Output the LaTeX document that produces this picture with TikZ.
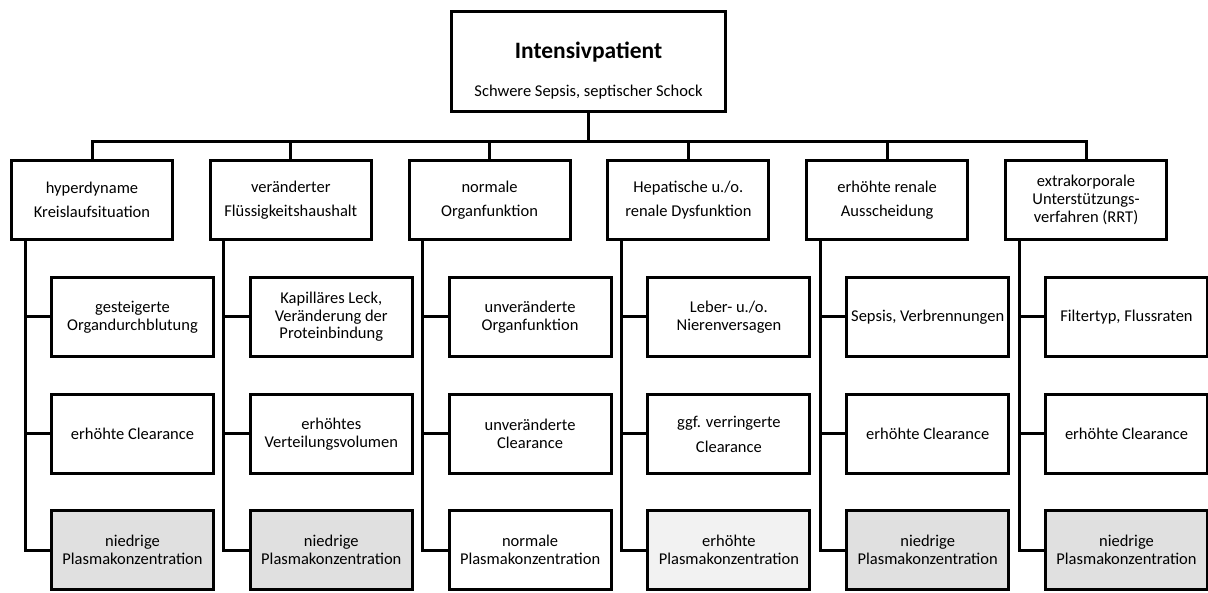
\documentclass[tikz,border=0pt]{standalone}
\usepackage{fontspec}
\setmainfont{Carlito}
\usepackage{tikz}
\definecolor{plasmagray}{RGB}{224,224,224}
\definecolor{plasmalight}{RGB}{242,242,242}

\begin{document}
\begin{tikzpicture}[x=1pt, y=-1pt,
	box/.style={draw, line width=3pt, rectangle, align=center, inner sep=2pt, minimum width=161pt, minimum height=79pt, font=\fontsize{16.5}{24}\selectfont},
	sub/.style={box, minimum width=162pt, font=\fontsize{16.5}{17.5}\selectfont},
	low/.style={sub, fill=plasmagray},
	high/.style={sub, fill=plasmalight},
	link/.style={line width=3pt}]
	\useasboundingbox (0,0) rectangle (1208,593);

	\node[box, minimum width=274pt, minimum height=100pt] (top) at (588.5,61.5) {{\fontsize{23.5}{28}\selectfont\bfseries\rule{0pt}{35pt}Intensivpatient}\\[14pt]Schwere Sepsis, septischer Schock};
	\coordinate (bus) at (588.5,142);

	\node[box] (l1) at (92,200) {hyperdyname\\Kreislaufsituation};
	\node[box] (l2) at (290.8,200) {veränderter\\Flüssigkeitshaushalt};
	\node[box] (l3) at (489.6,200) {normale\\Organfunktion};
	\node[box] (l4) at (688.4,200) {Hepatische u./o.\\renale Dysfunktion};
	\node[box] (l5) at (887.2,200) {erhöhte renale\\Ausscheidung};
	\node[box, font=\fontsize{16.5}{18}\selectfont] (l6) at (1086,200) {extrakorporale\\Unterstützungs-\\verfahren (RRT)};

	% column 1
	\node[sub] (c1a) at (132.5,317) {gesteigerte\\Organdurchblutung};
	\node[sub] (c1b) at (132.5,434) {erhöhte Clearance};
	\node[low] (c1c) at (132.5,550) {niedrige\\Plasmakonzentration};
	% column 2
	\node[sub] (c2a) at (331.3,317) {Kapilläres Leck,\\Veränderung der\\Proteinbindung};
	\node[sub] (c2b) at (331.3,434) {erhöhtes\\Verteilungsvolumen};
	\node[low] (c2c) at (331.3,550) {niedrige\\Plasmakonzentration};
	% column 3
	\node[sub] (c3a) at (530.1,317) {unveränderte\\Organfunktion};
	\node[sub] (c3b) at (530.1,434) {unveränderte\\Clearance};
	\node[sub] (c3c) at (530.1,550) {normale\\Plasmakonzentration};
	% column 4
	\node[sub] (c4a) at (728.9,317) {Leber- u./o.\\Nierenversagen};
	\node[sub, font=\fontsize{16.5}{25}\selectfont] (c4b) at (728.9,434) {ggf. verringerte\\Clearance};
	\node[high] (c4c) at (728.9,550) {erhöhte\\Plasmakonzentration};
	% column 5
	\node[sub] (c5a) at (927.7,317) {Sepsis, Verbrennungen};
	\node[sub] (c5b) at (927.7,434) {erhöhte Clearance};
	\node[low] (c5c) at (927.7,550) {niedrige\\Plasmakonzentration};
	% column 6
	\node[sub] (c6a) at (1126.5,317) {Filtertyp, Flussraten};
	\node[sub] (c6b) at (1126.5,434) {erhöhte Clearance};
	\node[low] (c6c) at (1126.5,550) {niedrige\\Plasmakonzentration};

	% top level
	\draw[link] (top) -- (bus);
	\draw[link] (bus) -| (l1);
	\draw[link] (bus) -| (l2);
	\draw[link] (bus) -| (l3);
	\draw[link] (bus) -| (l4);
	\draw[link] (bus) -| (l5);
	\draw[link] (bus) -| (l6);
	% column 1
	\draw[link] ([xshift=15pt]l1.south west) |- (c1a);
	\draw[link] ([xshift=15pt]l1.south west) |- (c1b);
	\draw[link] ([xshift=15pt]l1.south west) |- (c1c);
	% column 2
	\draw[link] ([xshift=15pt]l2.south west) |- (c2a);
	\draw[link] ([xshift=15pt]l2.south west) |- (c2b);
	\draw[link] ([xshift=15pt]l2.south west) |- (c2c);
	% column 3
	\draw[link] ([xshift=15pt]l3.south west) |- (c3a);
	\draw[link] ([xshift=15pt]l3.south west) |- (c3b);
	\draw[link] ([xshift=15pt]l3.south west) |- (c3c);
	% column 4
	\draw[link] ([xshift=15pt]l4.south west) |- (c4a);
	\draw[link] ([xshift=15pt]l4.south west) |- (c4b);
	\draw[link] ([xshift=15pt]l4.south west) |- (c4c);
	% column 5
	\draw[link] ([xshift=15pt]l5.south west) |- (c5a);
	\draw[link] ([xshift=15pt]l5.south west) |- (c5b);
	\draw[link] ([xshift=15pt]l5.south west) |- (c5c);
	% column 6
	\draw[link] ([xshift=15pt]l6.south west) |- (c6a);
	\draw[link] ([xshift=15pt]l6.south west) |- (c6b);
	\draw[link] ([xshift=15pt]l6.south west) |- (c6c);
\end{tikzpicture}
\end{document}
